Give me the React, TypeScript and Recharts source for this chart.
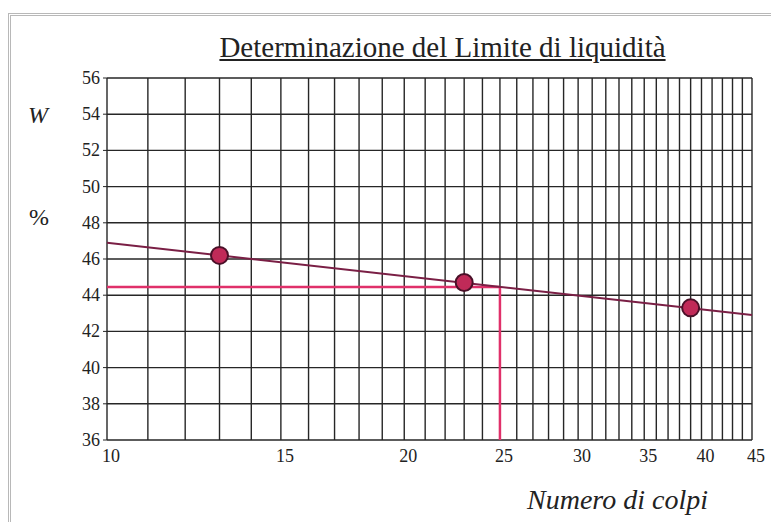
import {
  ComposedChart,
  Line,
  ReferenceLine,
  Scatter,
  XAxis,
  YAxis,
} from "recharts";

// blows (log scale) vs water content %
const xTicks = [10, 15, 20, 25, 30, 35, 40, 45];
const yTicks = [36, 38, 40, 42, 44, 46, 48, 50, 52, 54, 56];
const gridBlows = [
  10, 11, 12, 13, 14, 15, 16, 17, 18, 19, 20, 21, 22, 23, 24, 25, 26, 27, 28,
  29, 30, 31, 32, 33, 34, 35, 36, 37, 38, 39, 40, 41, 42, 43, 44, 45,
];

const testBlows = [13, 23, 39];
const testWater = [46.2, 44.7, 43.3];

const fitBlows = [10, 45];
const fitWater = [46.9, 42.9];

const liquidLimit = 44.45;
const refBlows = 25;

const points = testBlows.map((n, i) => ({ n, w: testWater[i] }));
const fit = fitBlows.map((n, i) => ({ n, w: fitWater[i] }));

const GRID = "#262626";
const PINK = "#e0306a";
const FONT = "'Liberation Serif', 'Times New Roman', serif";

function Dot(props: { cx?: number; cy?: number }) {
  const { cx, cy } = props;
  if (cx == null || cy == null) return null;
  return (
    <circle cx={cx} cy={cy} r={8.5} fill="#c02a58" stroke="#4a1028" strokeWidth={2} />
  );
}

function XTick(props: { x?: number; y?: number; payload?: { value: number } }) {
  const { x = 0, y = 0, payload } = props;
  return (
    <text x={x + 4} y={y + 14} textAnchor="middle" fill="#222" fontSize={18} fontFamily={FONT}>
      {payload?.value}
    </text>
  );
}

function YTick(props: { x?: number; y?: number; payload?: { value: number } }) {
  const { x = 0, y = 0, payload } = props;
  return (
    <text x={x - 1} y={y + 6} textAnchor="end" fill="#222" fontSize={18} fontFamily={FONT}>
      {payload?.value}
    </text>
  );
}

export default function App() {
  return (
    <div
      style={{
        position: "absolute",
        left: 0,
        top: 0,
        width: 771,
        height: 522,
        background: "#fff",
        fontFamily: FONT,
        overflow: "hidden",
      }}
    >
      <div
        style={{
          position: "absolute",
          left: 8,
          top: 13,
          width: 780,
          height: 540,
          borderLeft: "3px double #b8b8b8",
          borderTop: "3px double #b8b8b8",
        }}
      />
      <div
        style={{
          position: "absolute",
          left: 0,
          width: 771,
          top: 29,
          paddingLeft: 114,
          boxSizing: "border-box",
          textAlign: "center",
          fontSize: 29,
          lineHeight: "36px",
          textDecoration: "underline",
          color: "#222",
        }}
      >
        Determinazione del Limite di liquidità
      </div>
      <div style={{ position: "absolute", left: 28, top: 102, fontSize: 24, fontStyle: "italic", color: "#222" }}>
        W
      </div>
      <div style={{ position: "absolute", left: 29, top: 204, fontSize: 24, color: "#222" }}>%</div>
      <div
        style={{
          position: "absolute",
          left: 527,
          top: 484,
          fontSize: 28,
          fontStyle: "italic",
          color: "#222",
        }}
      >
        Numero di colpi
      </div>
      <ComposedChart
        width={771}
        height={522}
        margin={{ top: 78, right: 19, bottom: 52, left: 0 }}
        style={{ position: "absolute", left: 0, top: 0 }}
      >
        <XAxis
          type="number"
          dataKey="n"
          scale="log"
          domain={[10, 45]}
          ticks={xTicks}
          interval={0}
          allowDataOverflow
          axisLine={false}
          tickLine={false}
          height={30}
          tick={<XTick />}
        />
        <YAxis
          type="number"
          dataKey="w"
          domain={[36, 56]}
          ticks={yTicks}
          width={107}
          interval={0}
          allowDataOverflow
          axisLine={false}
          tickSize={4}
          tickLine={{ stroke: GRID }}
          tick={<YTick />}
        />
        {gridBlows.map((b) => (
          <ReferenceLine key={"v" + b} x={b} stroke={GRID} strokeWidth={1.4} />
        ))}
        {yTicks.map((v) => (
          <ReferenceLine key={"h" + v} y={v} stroke={GRID} strokeWidth={1.4} />
        ))}
        <ReferenceLine
          segment={[
            { x: 10, y: liquidLimit },
            { x: refBlows, y: liquidLimit },
          ]}
          stroke={PINK}
          strokeWidth={2.5}
        />
        <ReferenceLine
          segment={[
            { x: refBlows, y: liquidLimit },
            { x: refBlows, y: 36 },
          ]}
          stroke={PINK}
          strokeWidth={2.5}
        />
        <Line
          data={fit}
          dataKey="w"
          stroke="#7a1f45"
          strokeWidth={2}
          dot={false}
          isAnimationActive={false}
        />
        <Scatter data={points} dataKey="w" shape={<Dot />} isAnimationActive={false} />
      </ComposedChart>
    </div>
  );
}
